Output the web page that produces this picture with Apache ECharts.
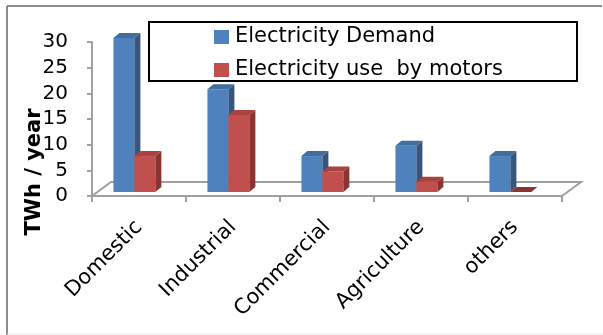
<!DOCTYPE html>
<html>
<head>
<meta charset="utf-8">
<script src="https://cdn.jsdelivr.net/npm/echarts@6/dist/echarts.min.js"></script>
<style>
html,body{margin:0;padding:0;background:#fff;}
#c{width:603px;height:335px;}
</style>
</head>
<body>
<div id="c"></div>
<script>
var categories = ['Domestic', 'Industrial', 'Commercial', 'Agriculture', 'others'];
var demandValues = [30, 20, 7, 9, 7];
var motorValues = [7, 15, 4, 2, 0];
var seriesNames = ['Electricity Demand', 'Electricity use  by motors'];
var yTicks = [0, 5, 10, 15, 20, 25, 30];

var FONT = 'DejaVu Sans';
var palettes = [
  {front: '#4f81bd', side: '#36557f', top: '#416d9f'},
  {front: '#c0504d', side: '#8a3432', top: '#a84340'}
];

function barRender(k) {
  return function (params, api) {
    var cat = api.value(0), val = api.value(1);
    var base = api.coord([cat, 0]);
    var top = api.coord([cat, val]);
    var band = api.size([1, 0])[0];
    var bw = band * 0.223;
    var x0 = base[0] - band * 0.272 + k * bw;
    var lift = 4, dx = 6, dy = -5;
    var yb = base[1] - lift, yt = top[1] - lift;
    var p = palettes[k];
    var children = [];
    if (yb - yt > 0.5) {
      children.push({type: 'rect', shape: {x: x0, y: yt, width: bw, height: yb - yt}, style: {fill: p.front}});
      children.push({type: 'polygon', shape: {points: [[x0 + bw, yb], [x0 + bw, yt], [x0 + bw + dx, yt + dy], [x0 + bw + dx, yb + dy]]}, style: {fill: p.side}});
    }
    children.push({type: 'polygon', shape: {points: [[x0, yt], [x0 + bw, yt], [x0 + bw + dx, yt + dy], [x0 + dx, yt + dy]]}, style: {fill: yb - yt > 0.5 ? p.top : p.side}});
    return {type: 'group', children: children};
  };
}

function floorRender(params, api) {
  var band = api.size([1, 0])[0];
  var a = api.coord([0, 0]);
  var b = api.coord([categories.length - 1, 0]);
  var left = a[0] - band / 2, right = b[0] + band / 2, y = a[1];
  var dx = 19, dy = -14;
  return {
    type: 'polyline',
    shape: {points: [[left, y], [left + dx, y + dy], [right + dx, y + dy], [right, y]]},
    style: {stroke: '#a0a0a0', lineWidth: 2, fill: null}
  };
}

var chart = echarts.init(document.getElementById('c'), null, {renderer: 'canvas'});
chart.setOption({
  backgroundColor: '#ffffff',
  animation: false,
  textStyle: {fontFamily: FONT},
  grid: {left: 92, top: 42, width: 470, height: 154, containLabel: false},
  legend: {
    show: true,
    orient: 'vertical',
    left: 214, top: 26,
    padding: 0,
    itemWidth: 15, itemHeight: 14, itemGap: 11,
    icon: 'rect',
    data: seriesNames,
    textStyle: {fontSize: 21, fontFamily: FONT, color: '#000', lineHeight: 22, padding: [0, 0, 0, 1]}
  },
  xAxis: {
    type: 'category',
    data: categories,
    boundaryGap: true,
    axisLine: {show: true, lineStyle: {color: '#a0a0a0', width: 2}},
    axisTick: {show: true, length: 6, lineStyle: {color: '#a0a0a0', width: 2}},
    axisLabel: {rotate: 45, interval: 0, fontSize: 21, fontFamily: FONT, color: '#000', margin: 28}
  },
  yAxis: {
    type: 'value',
    min: yTicks[0], max: yTicks[yTicks.length - 1], interval: 5,
    axisLine: {show: true, lineStyle: {color: '#a0a0a0', width: 2}},
    axisTick: {show: true, length: 5, lineStyle: {color: '#a0a0a0', width: 2}},
    splitLine: {show: false},
    axisLabel: {fontSize: 20, fontFamily: FONT, color: '#000', margin: 24}
  },
  graphic: [
    {type: 'line', shape: {x1: 7, y1: 6, x2: 602, y2: 6}, style: {stroke: '#8c8c8c', lineWidth: 2}, z: 100},
    {type: 'line', shape: {x1: 7, y1: 6, x2: 7, y2: 335}, style: {stroke: '#8c8c8c', lineWidth: 2}, z: 100},
    {type: 'line', shape: {x1: 7, y1: 334, x2: 603, y2: 334}, style: {stroke: '#eaeaea', lineWidth: 1}, z: 100},
    {type: 'rect', shape: {x: 149, y: 22, width: 428, height: 59}, style: {fill: null, stroke: '#000', lineWidth: 2}, z: 100},
    {type: 'text', x: 35, y: 172, rotation: Math.PI / 2,
     style: {text: 'TWh / year', font: 'bold 21px "DejaVu Sans"', fill: '#000', align: 'center', verticalAlign: 'middle'}, z: 100}
  ],
  series: [
    {type: 'custom', name: 'floor', renderItem: floorRender, data: [[0, 0]], z: 1, silent: true, clip: false},
    {type: 'custom', name: seriesNames[0], renderItem: barRender(0), itemStyle: {color: palettes[0].front},
     data: demandValues.map(function (v, i) { return [i, v]; }), z: 2, clip: false},
    {type: 'custom', name: seriesNames[1], renderItem: barRender(1), itemStyle: {color: palettes[1].front},
     data: motorValues.map(function (v, i) { return [i, v]; }), z: 3, clip: false}
  ]
});
</script>
</body>
</html>
